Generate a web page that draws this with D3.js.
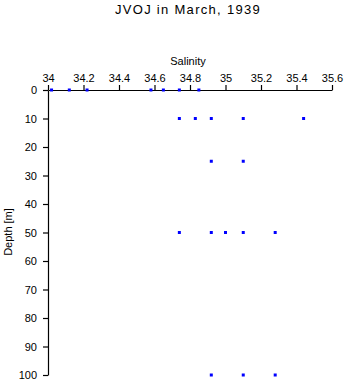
<!DOCTYPE html>
<html><head><meta charset="utf-8">
<script src="https://cdn.jsdelivr.net/npm/d3@7"></script>
<style>body{margin:0;background:#fff}svg{display:block}text{font-family:"Liberation Sans",Arial,sans-serif}</style>
</head><body>
<svg id="c" width="346" height="384"></svg>
<script>
const depth0 = [34.02, 34.12, 34.22, 34.58, 34.65, 34.74, 34.85];
const depth10 = [34.74, 34.83, 34.92, 35.10, 35.44];
const depth25 = [34.92, 35.10];
const depth50 = [34.74, 34.92, 35.00, 35.10, 35.28];
const depth100 = [34.92, 35.10, 35.28];
const depths = [0, 10, 25, 50, 100];
const salinityTicks = [34, 34.2, 34.4, 34.6, 34.8, 35, 35.2, 35.4, 35.6];
const depthTicks = [0, 10, 20, 30, 40, 50, 60, 70, 80, 90, 100];

const series = [depth0, depth10, depth25, depth50, depth100];
const pts = [];
series.forEach((arr, i) => arr.forEach(s => pts.push({s, d: depths[i]})));

const svg = d3.select("#c");
const x = d3.scaleLinear().domain([34, 35.6]).range([48, 332]);
const y = d3.scaleLinear().domain([0, 100]).range([90, 375]);

svg.append("text").attr("x", 188).attr("y", 13.5).attr("text-anchor", "middle")
  .attr("font-size", 13).attr("letter-spacing", 1.3).text("JVOJ in March, 1939");

const xa = svg.append("g").attr("transform", "translate(0,90)")
  .call(d3.axisTop(x).tickValues(salinityTicks).tickSize(5).tickSizeOuter(0).tickPadding(3).tickFormat(d3.format("")));
const ya = svg.append("g").attr("transform", "translate(48,0)")
  .call(d3.axisLeft(y).tickValues(depthTicks).tickSize(5).tickSizeOuter(0).tickPadding(6));
[xa, ya].forEach(a => {
  a.select(".domain").attr("stroke", "#000").attr("stroke-width", 1.2);
  a.selectAll(".tick line").attr("stroke", "#000").attr("stroke-width", 1.2);
  a.selectAll(".tick text").attr("font-size", 11).attr("fill", "#000")
    .attr("font-family", "'Liberation Sans',Arial,sans-serif");
});

svg.append("text").attr("x", 188).attr("y", 65).attr("text-anchor", "middle")
  .attr("font-size", 11).text("Salinity");
svg.append("text").attr("transform", "translate(12,232) rotate(-90)")
  .attr("text-anchor", "middle").attr("font-size", 11).text("Depth [m]");

svg.append("g").selectAll("rect").data(pts).join("rect")
  .attr("x", d => x(d.s) - 1.5).attr("y", d => y(d.d) - 1.5)
  .attr("width", 3).attr("height", 3).attr("fill", "#0000ff");
</script>
</body></html>
